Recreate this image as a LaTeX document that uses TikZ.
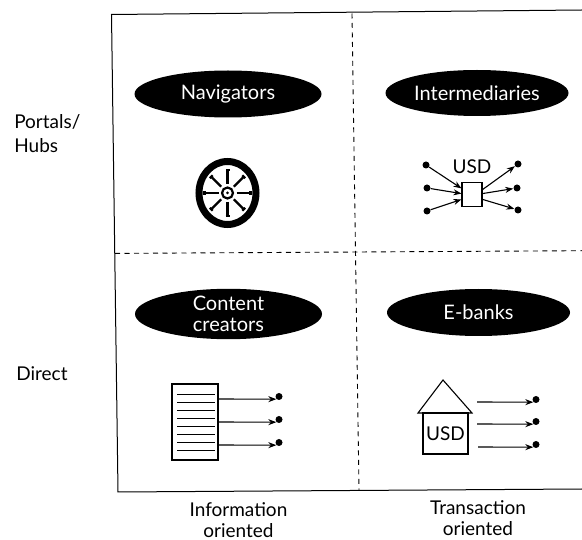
\documentclass[tikz,border=0pt]{standalone}
\usepackage{fontspec}
\setmainfont{Lato}
\usetikzlibrary{arrows.meta,positioning,shapes.geometric}

\tikzset{
  blob/.style={ellipse,fill=black,text=white,inner sep=0pt,align=center,font=\fontsize{20}{21}\selectfont},
  label/.style={inner sep=0pt,align=left,font=\fontsize{19}{24}\selectfont},
  tick/.style={inner sep=0pt,align=center,font=\fontsize{19}{21}\selectfont},
  dot/.style={circle,fill=black,inner sep=0pt,minimum size=7pt},
  divider/.style={-,dash pattern=on 5pt off 4.5pt,line width=0.9pt},
  link/.style={line width=1.1pt}
}

\begin{document}
\begin{tikzpicture}[x=1pt,y=-1pt,->,>={Stealth[length=8pt,width=6pt]},semithick]
  \useasboundingbox (0,0) rectangle (582,540);

  % frame
  \coordinate (TL) at (111.5,14.5);
  \coordinate (TR) at (582,10);
  \coordinate (BL) at (118,492);
  \coordinate (BR) at (582,489);
  \coordinate (TM) at (352,13.5);
  \coordinate (BM) at (359,490);
  \coordinate (ML) at (115,253.4);
  \coordinate (MR) at (582,250.7);
  \draw[-,line width=1pt] (TR) -- (TL) -- (BL) -- (BR);
  \draw[divider] (TM) -- (BM);
  \draw[divider] (ML) -- (MR);

  % titles
  \node[blob,minimum width=187pt,minimum height=47pt] (nav) at (228,94) {Navigators};
  \node[blob,minimum width=183pt,minimum height=46pt] (inter) at (477,93) {Intermediaries};
  \node[blob,minimum width=187pt,minimum height=47pt] (content) at (228.5,314) {Content\\creators};
  \node[blob,minimum width=183pt,minimum height=47pt] (ebanks) at (478.5,312.5) {E-banks};

  % axis texts
  \node[label,anchor=west] (portals) at (14,134) {Portals/\\Hubs};
  \node[label,anchor=west] (direct) at (16,374) {Direct};
  \node[tick] (info) at (238.5,520) {Information\\oriented};
  \node[tick] (trans) at (478,518.5) {Transaction\\oriented};

  % wheel
  \node[ellipse,draw,line width=7pt,minimum width=57pt,minimum height=63pt,inner sep=0pt] (wheel) at (227.5,193) {};
  \node[circle,draw,line width=2.2pt,minimum size=11pt,inner sep=0pt] (hub) at (wheel.center) {};
  \node[circle,fill=black,minimum size=3pt,inner sep=0pt] (axle) at (wheel.center) {};
  \foreach \a in {0,45,...,315}
    \draw[-,line width=2.2pt] (wheel.center) ++(\a:9) -- ++(\a:14) ++(\a+90:2) -- ++(\a-90:4);

  % exchange
  \node[draw,link,minimum width=20pt,minimum height=24pt,inner sep=0pt] (usd) at (472,194.5) {};
  \node[tick,above=8pt of usd] (usdtext) {USD};
  \node[dot] (in1) at (426,165) {};
  \node[dot] (in2) at (427,188) {};
  \node[dot] (in3) at (427,211) {};
  \node[dot] (out1) at (518,164) {};
  \node[dot] (out2) at (517,188) {};
  \node[dot] (out3) at (518,210) {};
  \path[link] (in1) edge (usd.150);
  \path[link] (in2) edge (usd.175);
  \path[link] (in3) edge (usd.205);
  \path[link] (usd.25) edge (out1);
  \path[link] (usd.5) edge (out2);
  \path[link] (usd.335) edge (out3);

  % document
  \node[draw,link,minimum width=46pt,minimum height=76pt,inner sep=0pt] (doc) at (195,422) {};
  \foreach \y in {394,402,...,450}
    \draw[-,line width=0.9pt] (177,\y) -- (215,\y);
  \node[dot] (d1) at (279,396.5) {};
  \node[dot] (d2) at (279,419.5) {};
  \node[dot] (d3) at (279,442.5) {};
  \coordinate (s1) at (218,399);
  \coordinate (s2) at (218,422);
  \coordinate (s3) at (218,445);
  \path[link] (s1) edge (d1.south west);
  \path[link] (s2) edge (d2.south west);
  \path[link] (s3) edge (d3.south west);

  % bank
  \node[draw,link,minimum width=45pt,minimum height=41pt,inner sep=0pt,font=\fontsize{19}{19}\selectfont] (bank) at (445.5,433.5) {USD};
  \coordinate (apex) at (443,380);
  \coordinate (eaveL) at (418,413);
  \coordinate (eaveR) at (472,413);
  \draw[-,link] (eaveL) -- (apex) -- (eaveR) -- cycle;
  \node[dot] (b1) at (536,399.5) {};
  \node[dot] (b2) at (536,421.5) {};
  \node[dot] (b3) at (536,444.5) {};
  \coordinate (t1) at (477,402);
  \coordinate (t2) at (477,424);
  \coordinate (t3) at (478,447);
  \path[link] (t1) edge (b1.south west);
  \path[link] (t2) edge (b2.south west);
  \path[link] (t3) edge (b3.south west);

\end{tikzpicture}
\end{document}
